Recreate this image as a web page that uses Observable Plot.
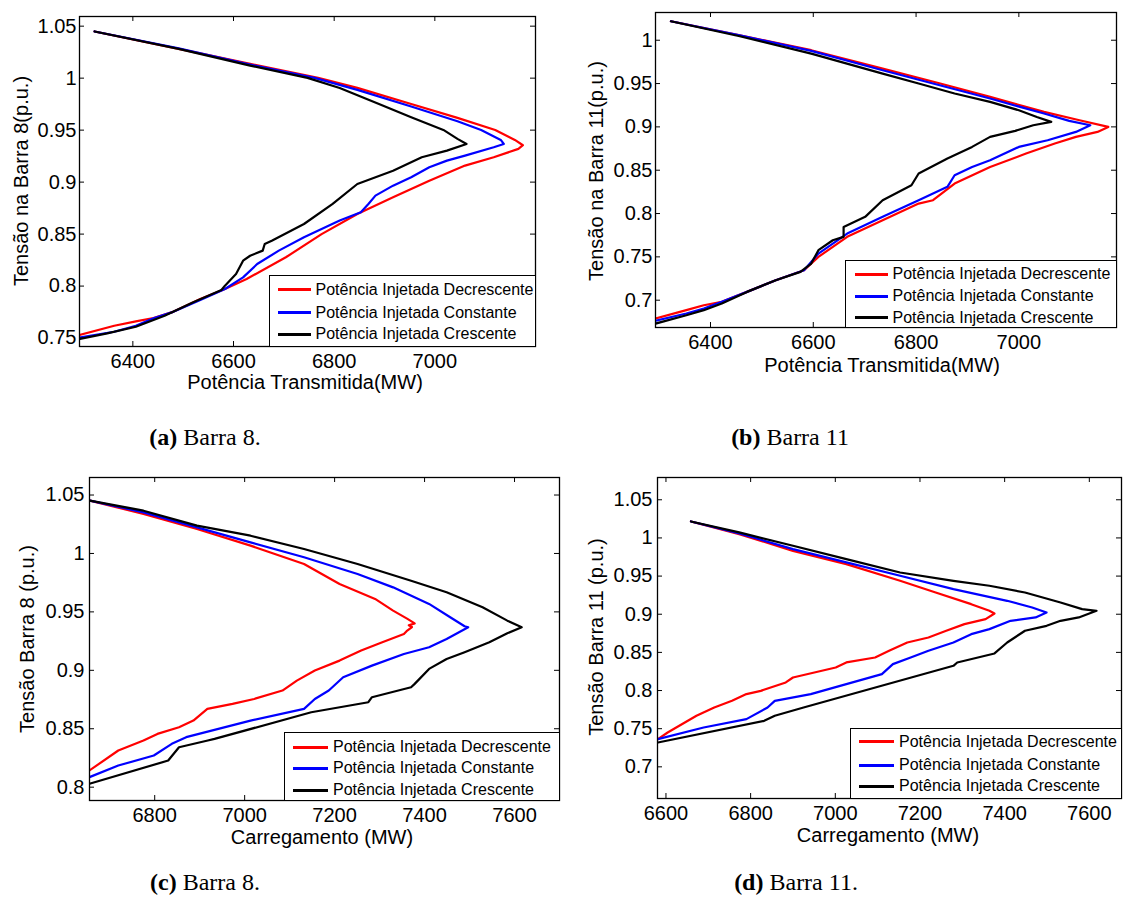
<!DOCTYPE html>
<html>
<head>
<meta charset="utf-8">
<script src="https://cdn.jsdelivr.net/npm/d3@7"></script>
<script src="https://cdn.jsdelivr.net/npm/@observablehq/plot@0.6"></script>
<style>
  body { margin: 0; background: #fff; }
  #root { position: relative; width: 1123px; height: 905px; overflow: hidden; background: #fff;
          font-family: "Liberation Sans", Arial, sans-serif; color: #000; }
  .plot { position: absolute; }
  .lbl { position: absolute; font-size: 20px; white-space: nowrap; line-height: 1; transform: translate(-50%, -50%); }
  .ylbl { transform: translate(-50%, -50%) rotate(-90deg); }
  .legend { position: absolute; border: 1px solid #000; background: #fff; box-sizing: border-box; }
  .legend .sw { position: absolute; height: 3px; }
  .legend .tx { position: absolute; font-size: 16px; white-space: nowrap; line-height: 1; transform: translateY(-50%); }
  .cap { position: absolute; font-family: "Liberation Serif", "Times New Roman", serif; font-size: 24px;
         white-space: nowrap; transform: translate(-50%, -50%); line-height: 1; }
</style>
</head>
<body>
<div id="root"></div>
<script>
// ---------------- data ----------------
const seriesNames = ["Potência Injetada Decrescente", "Potência Injetada Constante", "Potência Injetada Crescente"];
const seriesColors = ["#ff0000", "#0000ff", "#000000"];

// (a) Barra 8 — Potência Transmitida (MW) vs Tensão (p.u.)
const aDecrescente = [[6324,1.0449],[6491,1.0282],[6633,1.0137],[6768,1.0003],[6846,0.9906],[6953,0.9752],[7045,0.9618],[7120,0.9502],[7159,0.9406],[7175,0.9355],
  [7166,0.932],[7117,0.9239],[7060,0.9159],[6989,0.9014],[6917,0.8854],[6846,0.8694],[6775,0.850],[6704,0.8277],[6626,0.8068],[6583,0.7972],[6534,0.7875],[6477,0.7747],[6441,0.7693],[6406,0.766],[6363,0.7619],[6290,0.7525]];
const aConstante = [[6324,1.0449],[6491,1.0288],[6633,1.0131],[6761,1.0003],[6846,0.9887],[6953,0.9727],[7045,0.9586],[7092,0.9502],[7131,0.9406],[7137,0.9367],
  [7117,0.9335],[7060,0.9255],[7024,0.9207],[6989,0.9143],[6953,0.9047],[6917,0.8966],[6882,0.887],[6868,0.879],[6853,0.871],[6811,0.863],[6740,0.847],[6690,0.8341],[6647,0.8212],[6619,0.8084],[6583,0.7972],[6534,0.7866],[6477,0.7747],[6441,0.769],[6406,0.7619],[6363,0.7561],[6290,0.7503]];
const aCrescente = [[6324,1.0449],[6491,1.0282],[6633,1.0121],[6747,1.0003],[6811,0.9906],[6889,0.9752],[6953,0.9624],[7017,0.9502],[7045,0.9416],[7063,0.9367],
  [7024,0.9303],[6974,0.9239],[6917,0.911],[6846,0.8982],[6797,0.879],[6740,0.8597],[6676,0.8437],[6662,0.8405],[6658,0.8341],[6633,0.8292],[6619,0.8244],[6605,0.8116],[6583,0.8004],[6576,0.7962],[6519,0.7843],[6463,0.7715],[6406,0.7609],[6349,0.7545],[6290,0.7488]];

// (b) Barra 11 — Potência Transmitida
const bDecrescente = [[6323,1.0219],[6457,1.0058],[6596,0.9885],[6735,0.9673],[6847,0.95],[6944,0.9346],[7049,0.9173],[7118,0.9077],[7174,0.90],
  [7153,0.8942],[7111,0.8885],[7070,0.8808],[7014,0.8692],[6944,0.8538],[6875,0.8346],[6833,0.8154],[6805,0.8115],[6735,0.7923],[6666,0.7731],[6610,0.75],[6582,0.7346],[6527,0.7231],[6471,0.7096],[6422,0.6981],[6387,0.6942],[6353,0.6885],[6290,0.6785]];
const bConstante = [[6323,1.0219],[6457,1.0058],[6596,0.9877],[6735,0.9654],[6833,0.95],[6944,0.9327],[7049,0.9154],[7098,0.9069],[7139,0.9019],
  [7111,0.8942],[7056,0.8846],[7000,0.8769],[6944,0.8615],[6909,0.8538],[6875,0.8442],[6861,0.8308],[6805,0.8154],[6735,0.7962],[6666,0.7769],[6610,0.7538],[6582,0.7346],[6527,0.7231],[6471,0.7096],[6422,0.6981],[6387,0.6904],[6353,0.6846],[6290,0.676]];
const bCrescente = [[6323,1.0219],[6457,1.0046],[6596,0.9846],[6735,0.9615],[6805,0.95],[6875,0.9385],[6944,0.9288],[7000,0.9192],[7035,0.9115],[7063,0.9058],
  [7028,0.9019],[6993,0.8954],[6944,0.8885],[6909,0.8769],[6861,0.8635],[6805,0.8462],[6791,0.8327],[6735,0.8154],[6701,0.7962],[6659,0.7846],[6659,0.7731],[6638,0.7692],[6610,0.7577],[6596,0.7423],[6575,0.7327],[6527,0.7231],[6471,0.7096],[6422,0.6962],[6387,0.6885],[6353,0.6827],[6290,0.6725]];

// (c) Barra 8 — Carregamento (MW)
const cDecrescente = [[6656,1.0452],[6775,1.0338],[6894,1.0209],[7013,1.0067],[7132,0.991],[7211,0.9739],[7290,0.9611],[7330,0.9511],[7362,0.944],[7378,0.9402],[7365,0.9385],[7372,0.937],[7360,0.9335],
  [7354,0.9311],[7306,0.924],[7259,0.9169],[7211,0.9083],[7156,0.8998],[7116,0.8912],[7084,0.8827],[7021,0.8755],[6973,0.8713],[6917,0.867],[6886,0.857],[6854,0.8513],[6806,0.8456],[6775,0.8399],[6719,0.8314],[6655,0.8143]];
const cConstante = [[6656,1.0452],[6775,1.0352],[6894,1.0223],[7013,1.0095],[7132,0.9967],[7251,0.9824],[7330,0.971],[7410,0.9568],[7457,0.9454],[7489,0.9377],[7497,0.9368],
  [7449,0.9268],[7410,0.9197],[7354,0.914],[7283,0.904],[7219,0.8941],[7187,0.8827],[7156,0.8755],[7132,0.867],[7013,0.857],[6870,0.8428],[6838,0.8371],[6798,0.8271],[6719,0.8185],[6655,0.8086]];
const cCrescente = [[6656,1.0452],[6775,1.0366],[6894,1.0238],[7013,1.0152],[7132,1.0038],[7251,0.991],[7370,0.9767],[7449,0.9668],[7529,0.9539],[7584,0.9425],[7616,0.9368],
  [7584,0.9317],[7544,0.924],[7489,0.9155],[7449,0.9097],[7410,0.9012],[7378,0.8884],[7370,0.8855],[7283,0.877],[7275,0.8727],[7148,0.8641],[6933,0.8413],[6918,0.8399],[6854,0.8342],[6830,0.8228],[6655,0.8029]];

// (d) Barra 11 — Carregamento (MW)
const dDecrescente = [[6659,1.0216],[6773,1.005],[6900,0.9831],[7026,0.9657],[7153,0.9438],[7237,0.9285],[7321,0.9132],[7364,0.9045],[7376,0.901],
  [7355,0.8936],[7305,0.887],[7262,0.8783],[7220,0.8695],[7170,0.863],[7127,0.8521],[7094,0.8433],[7026,0.8368],[7001,0.8302],[6900,0.8171],[6883,0.8106],[6824,0.7996],[6790,0.7953],[6756,0.7865],[6714,0.7778],[6672,0.7669],[6604,0.745],[6581,0.7363]];
const dConstante = [[6659,1.0216],[6773,1.0059],[6900,0.9853],[7026,0.9679],[7153,0.9504],[7279,0.9329],[7406,0.9176],[7465,0.9089],[7499,0.9023],
  [7473,0.8958],[7414,0.8914],[7364,0.8805],[7321,0.8739],[7279,0.863],[7220,0.8521],[7178,0.8433],[7136,0.8346],[7110,0.8215],[6942,0.7953],[6857,0.7865],[6840,0.7778],[6790,0.7625],[6689,0.7516],[6581,0.7363]];
const dCrescente = [[6659,1.0216],[6773,1.0072],[6900,0.9897],[7026,0.9722],[7153,0.9547],[7279,0.9438],[7364,0.9373],[7448,0.9285],[7532,0.9154],[7583,0.9067],[7617,0.9045],
  [7575,0.8958],[7532,0.8914],[7499,0.8848],[7448,0.8783],[7406,0.863],[7376,0.8486],[7288,0.8368],[7279,0.8324],[6925,0.7778],[6857,0.7669],[6832,0.7603],[6581,0.7319]];

// tick labels
const xTicksTop = [6400, 6600, 6800, 7000];
const xTicksC = [6800, 7000, 7200, 7400, 7600];
const xTicksD = [6600, 6800, 7000, 7200, 7400, 7600];
const yTicksA = [0.75, 0.8, 0.85, 0.9, 0.95, 1, 1.05];
const yTicksB = [0.7, 0.75, 0.8, 0.85, 0.9, 0.95, 1];
const yTicksC = [0.8, 0.85, 0.9, 0.95, 1, 1.05];
const yTicksD = [0.7, 0.75, 0.8, 0.85, 0.9, 0.95, 1, 1.05];

// texts
const xLabelTop = "Potência Transmitida(MW)";
const xLabelBottom = "Carregamento (MW)";
const yLabels = ["Tensão na Barra 8(p.u.)", "Tensão na Barra 11(p.u.)", "Tensão Barra 8 (p.u.)", "Tensão Barra 11 (p.u.)"];
const captionLetters = ["(a)", "(b)", "(c)", "(d)"];
const captionTexts = [" Barra 8.", " Barra 11", " Barra 8.", " Barra 11."];

// ---------------- drawing ----------------
const root = document.getElementById("root");

function panel(p) {
  const fw = p.width - p.ml - p.mr, fh = p.height - p.mt - p.mb;
  const tkY = (p.yDomain[1] - p.yDomain[0]) * 5 / fh;
  const tkX = (p.xDomain[1] - p.xDomain[0]) * 5 / fw;
  const chart = Plot.plot({
    width: p.width, height: p.height,
    marginLeft: p.ml, marginRight: p.mr, marginTop: p.mt, marginBottom: p.mb,
    style: { fontSize: "20px", fontFamily: "'Liberation Sans', Arial, sans-serif", color: "#000", background: "transparent", overflow: "visible" },
    x: { domain: p.xDomain, ticks: p.xTicks, tickSize: 0, tickPadding: p.xPad, label: null, tickFormat: d => String(d) },
    y: { domain: p.yDomain, ticks: p.yTicks, tickSize: 0, tickPadding: p.yPad, label: null, tickFormat: d => String(d) },
    marks: [
      ...p.series.map((s, i) => Plot.line(s, { x: d => d[0], y: d => d[1], stroke: seriesColors[i], strokeWidth: 2.2, clip: true })),
      Plot.ruleX(p.xTicks, { x: d => d, y1: p.yDomain[0], y2: p.yDomain[0] + tkY, stroke: "#000" }),
      Plot.ruleX(p.xTicks, { x: d => d, y1: p.yDomain[1], y2: p.yDomain[1] - tkY, stroke: "#000" }),
      Plot.ruleY(p.yTicks, { y: d => d, x1: p.xDomain[0], x2: p.xDomain[0] + tkX, stroke: "#000" }),
      Plot.ruleY(p.yTicks, { y: d => d, x1: p.xDomain[1], x2: p.xDomain[1] - tkX, stroke: "#000" }),
      Plot.frame({ stroke: "#000", strokeWidth: 1.3 })
    ]
  });
  chart.classList.add("plot");
  chart.style.left = p.left + "px";
  chart.style.top = p.top + "px";
  root.appendChild(chart);

  // axis labels
  const xl = document.createElement("div");
  xl.className = "lbl"; xl.textContent = p.xLabel;
  xl.style.left = p.xLabelPos[0] + "px"; xl.style.top = p.xLabelPos[1] + "px";
  root.appendChild(xl);
  const yl = document.createElement("div");
  yl.className = "lbl ylbl"; yl.textContent = p.yLabel;
  yl.style.left = p.yLabelPos[0] + "px"; yl.style.top = p.yLabelPos[1] + "px";
  root.appendChild(yl);

  // legend
  const lg = document.createElement("div");
  lg.className = "legend";
  const [l, t, r, b] = p.legendBox;
  lg.style.left = l + "px"; lg.style.top = t + "px";
  lg.style.width = (r - l) + "px"; lg.style.height = (b - t) + "px";
  seriesNames.forEach((name, i) => {
    const sw = document.createElement("div");
    sw.className = "sw";
    sw.style.background = seriesColors[i];
    sw.style.left = p.legendLine[0] + "px";
    sw.style.width = p.legendLine[1] + "px";
    sw.style.top = (p.legendRows[i] - 1.5) + "px";
    lg.appendChild(sw);
    const tx = document.createElement("div");
    tx.className = "tx"; tx.textContent = name;
    tx.style.left = p.legendText + "px";
    tx.style.top = p.legendRows[i] + "px";
    lg.appendChild(tx);
  });
  root.appendChild(lg);

  // caption
  const cap = document.createElement("div");
  cap.className = "cap";
  const bl = document.createElement("b"); bl.textContent = p.capLetter;
  cap.appendChild(bl);
  cap.appendChild(document.createTextNode(p.capText));
  cap.style.left = p.capPos[0] + "px"; cap.style.top = p.capPos[1] + "px";
  root.appendChild(cap);
}

panel({
  left: 0, top: 0, width: 545, height: 392, ml: 79, mr: 10, mt: 16, mb: 46,
  xDomain: [6294, 7200], yDomain: [0.7419, 1.0593], xTicks: xTicksTop, yTicks: yTicksA, xPad: 7, yPad: 3,
  series: [aDecrescente, aConstante, aCrescente],
  xLabel: xLabelTop, xLabelPos: [305, 382], yLabel: yLabels[0], yLabelPos: [21, 181],
  legendBox: [268.5, 275, 535.5, 346.5], legendRows: [13.5, 36.5, 58], legendLine: [8, 33], legendText: 46,
  capLetter: captionLetters[0], capText: captionTexts[0], capPos: [205, 437]
});
panel({
  left: 560, top: 0, width: 563, height: 372, ml: 95, mr: 7, mt: 12, mb: 45,
  xDomain: [6293, 7190], yDomain: [0.6685, 1.032], xTicks: xTicksTop, yTicks: yTicksB, xPad: 7, yPad: 3,
  series: [bDecrescente, bConstante, bCrescente],
  xLabel: xLabelTop, xLabelPos: [882, 365], yLabel: yLabels[1], yLabelPos: [596, 171],
  legendBox: [845, 259.5, 1116.5, 327.5], legendRows: [13.5, 35.5, 57], legendLine: [8.5, 33], legendText: 46.5,
  capLetter: captionLetters[1], capText: captionTexts[1], capPos: [790, 437]
});
panel({
  left: 0, top: 460, width: 563, height: 380, ml: 89, mr: 4, mt: 17, mb: 40,
  xDomain: [6655, 7700], yDomain: [0.7886, 1.065], xTicks: xTicksC, yTicks: yTicksC, xPad: 7, yPad: 5,
  series: [cDecrescente, cConstante, cCrescente],
  xLabel: xLabelBottom, xLabelPos: [322, 837], yLabel: yLabels[2], yLabelPos: [27, 639],
  legendBox: [284, 731.5, 559.5, 800.5], legendRows: [14.5, 35.5, 57.5], legendLine: [8, 35], legendText: 48,
  capLetter: captionLetters[2], capText: captionTexts[2], capPos: [205, 882]
});
panel({
  left: 560, top: 460, width: 563, height: 380, ml: 97, mr: 2, mt: 17, mb: 42,
  xDomain: [6580, 7676], yDomain: [0.6585, 1.0792], xTicks: xTicksD, yTicks: yTicksD, xPad: 7, yPad: 5,
  series: [dDecrescente, dConstante, dCrescente],
  xLabel: xLabelBottom, xLabelPos: [888, 835], yLabel: yLabels[3], yLabelPos: [596, 637],
  legendBox: [850, 727.5, 1121.5, 798.5], legendRows: [13, 36.5, 57.5], legendLine: [8, 35], legendText: 48,
  capLetter: captionLetters[3], capText: captionTexts[3], capPos: [796, 882]
});
</script>
</body>
</html>
